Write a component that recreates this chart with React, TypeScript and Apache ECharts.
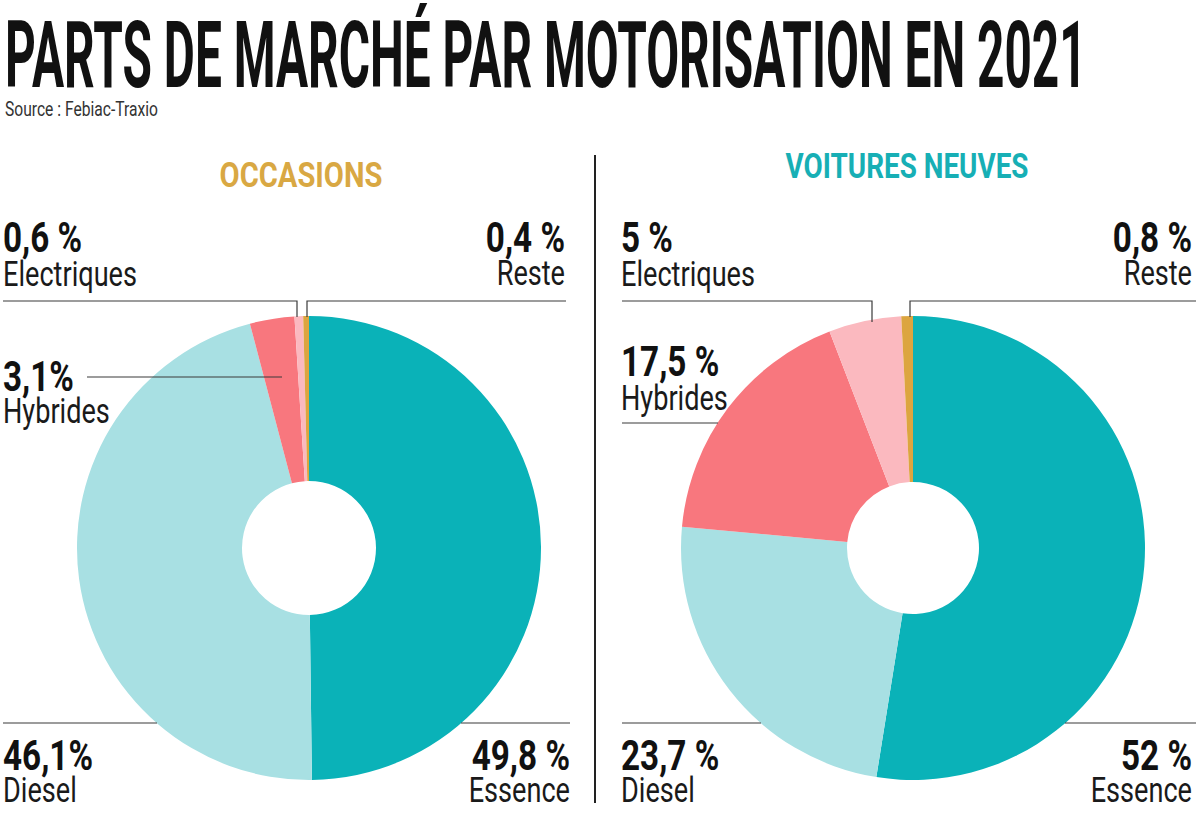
import React, { useEffect, useRef } from "react";
import * as echarts from "echarts";

// ---------- data ----------
const categories = ["Essence", "Diesel", "Hybrides", "Electriques", "Reste"];
const occasionsValues = [49.8, 46.1, 3.1, 0.6, 0.4];
const neuvesValues = [52, 23.7, 17.5, 5, 0.8];
const occasionsPct = ["49,8 %", "46,1%", "3,1%", "0,6 %", "0,4 %"];
const neuvesPct = ["52 %", "23,7 %", "17,5 %", "5 %", "0,8 %"];
const sliceColors = ["#0ab2b8", "#a8e0e3", "#f8777e", "#fbb9bf", "#dca540"];
const titleText = "PARTS DE MARCHÉ PAR MOTORISATION EN 2021";
const sourceText = "Source : Febiac-Traxio";
const panelTitles = ["OCCASIONS", "VOITURES NEUVES"];
const panelTitleColors = ["#d9a843", "#17afb5"];

// ---------- layout (positions only) ----------
type LabelPos = { x: number; align: "left" | "right"; numY: number; nameY: number; line: number[][] };
const leftLayout: LabelPos[] = [
  { x: 570, align: "right", numY: 756, nameY: 790, line: [[461, 723], [570, 723]] },
  { x: 3, align: "left", numY: 756, nameY: 790, line: [[3, 723], [157, 723]] },
  { x: 3, align: "left", numY: 377, nameY: 411, line: [[87, 377], [282, 377]] },
  { x: 3, align: "left", numY: 238, nameY: 274, line: [[3, 301], [297, 301], [297, 317]] },
  { x: 565, align: "right", numY: 238, nameY: 273, line: [[307, 317], [307, 301], [566, 301]] },
];
const rightLayout: LabelPos[] = [
  { x: 1192, align: "right", numY: 756, nameY: 790, line: [[1065, 723], [1196, 723]] },
  { x: 621, align: "left", numY: 756, nameY: 790, line: [[622, 723], [761, 723]] },
  { x: 621, align: "left", numY: 362, nameY: 398, line: [[622, 423], [718, 423]] },
  { x: 621, align: "left", numY: 238, nameY: 274, line: [[622, 301], [872, 301], [872, 322]] },
  { x: 1192, align: "right", numY: 238, nameY: 273, line: [[910, 317], [910, 301], [1196, 301]] },
];

const FAMILY = "Roboto";

function makeMeasurer() {
  const ctx = document.createElement("canvas").getContext("2d") as CanvasRenderingContext2D;
  return (text: string, weight: string, size: number) => {
    ctx.font = `${weight} ${size}px ${FAMILY}`;
    return ctx.measureText(text).width;
  };
}

export default function App() {
  const ref = useRef<HTMLDivElement>(null);

  useEffect(() => {
    document.body.style.margin = "0";
    if (!ref.current) return;
    const chart = echarts.init(ref.current, undefined, { renderer: "svg" });
    const measure = makeMeasurer();

    const NUM_SIZE = 42;
    const NAME_SIZE = 35;
    const numScale = 90 / measure("46,1%", "bold", NUM_SIZE);
    const nameScale = 134 / measure("Electriques", "normal", NAME_SIZE);

    const TITLE_SIZE = 93;
    const titleScale = 1082 / measure(titleText, "bold", TITLE_SIZE);
    const SOURCE_SIZE = 21;
    const sourceScale = 153 / measure(sourceText, "normal", SOURCE_SIZE);
    const HEAD_SIZE = 35;
    const headWidths = [163, 243];

    const graphics: any[] = [];
    graphics.push({
      type: "text",
      x: 5,
      y: 55,
      scaleX: titleScale,
      style: {
        text: titleText,
        fontFamily: FAMILY,
        fontWeight: "bold",
        fontSize: TITLE_SIZE,
        fill: "#111111",
        align: "left",
        verticalAlign: "middle",
      },
    });
    graphics.push({
      type: "text",
      x: 5,
      y: 109,
      scaleX: sourceScale,
      style: {
        text: sourceText,
        fontFamily: FAMILY,
        fontSize: SOURCE_SIZE,
        fill: "#333333",
        align: "left",
        verticalAlign: "middle",
      },
    });
    const headX = [301, 907];
    const headY = [175, 166];
    panelTitles.forEach((t, i) => {
      graphics.push({
        type: "text",
        x: headX[i],
        y: headY[i],
        scaleX: headWidths[i] / measure(t, "bold", HEAD_SIZE),
        style: {
          text: t,
          fontFamily: FAMILY,
          fontWeight: "bold",
          fontSize: HEAD_SIZE,
          fill: panelTitleColors[i],
          align: "center",
          verticalAlign: "middle",
        },
      });
    });
    graphics.push({
      type: "line",
      shape: { x1: 595, y1: 155, x2: 595, y2: 803 },
      style: { stroke: "#222222", lineWidth: 2 },
    });

    const addLabels = (pcts: string[], layout: LabelPos[]) => {
      categories.forEach((name, i) => {
        const L = layout[i];
        graphics.push({
          type: "polyline",
          z: 10,
          shape: { points: L.line },
          style: { stroke: "#3a3a3a", lineWidth: 1.2, fill: null },
        });
        graphics.push({
          type: "text",
          x: L.x,
          y: L.numY,
          scaleX: numScale,
          style: {
            text: pcts[i],
            fontFamily: FAMILY,
            fontWeight: "bold",
            fontSize: NUM_SIZE,
            fill: "#111111",
            align: L.align,
            verticalAlign: "middle",
          },
        });
        graphics.push({
          type: "text",
          x: L.x,
          y: L.nameY,
          scaleX: nameScale,
          style: {
            text: name,
            fontFamily: FAMILY,
            fontSize: NAME_SIZE,
            fill: "#1a1a1a",
            align: L.align,
            verticalAlign: "middle",
          },
        });
      });
    };
    addLabels(occasionsPct, leftLayout);
    addLabels(neuvesPct, rightLayout);

    const pieSeries = (values: number[], cx: number, inner: number) => ({
      type: "pie",
      center: [cx, 548],
      radius: [inner, 232],
      startAngle: 90,
      clockwise: true,
      silent: true,
      label: { show: false },
      labelLine: { show: false },
      itemStyle: { borderWidth: 0 },
      emphasis: { disabled: true },
      data: categories.map((name, i) => ({
        name,
        value: values[i],
        itemStyle: { color: sliceColors[i] },
      })),
    });

    chart.setOption({
      animation: false,
      backgroundColor: "#ffffff",
      series: [pieSeries(occasionsValues, 309, 67), pieSeries(neuvesValues, 913, 66)],
      graphic: { elements: graphics },
    });

    return () => chart.dispose();
  }, []);

  return <div ref={ref} style={{ width: 1200, height: 815 }} />;
}
